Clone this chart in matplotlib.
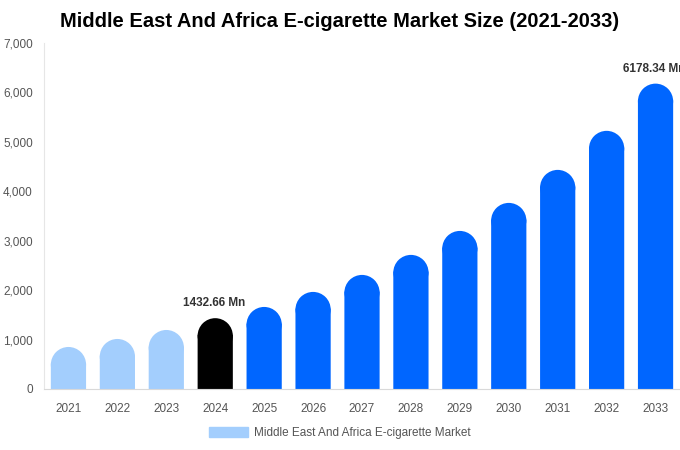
import matplotlib
matplotlib.use("Agg")
import matplotlib.pyplot as plt
from matplotlib.patches import Ellipse, Patch
from matplotlib.ticker import FuncFormatter

plt.rcParams['font.family'] = ['Liberation Sans', 'DejaVu Sans']

years = ['2021', '2022', '2023', '2024', '2025', '2026', '2027',
         '2028', '2029', '2030', '2031', '2032', '2033']
values = [850, 1012, 1194, 1432.66, 1660, 1964, 2308,
          2713, 3198, 3765, 4433, 5223, 6178.34]
colors = ['#a3cefd'] * 3 + ['#000000'] + ['#0066ff'] * 9
labeled = {3: '1432.66 Mn', 12: '6178.34 Mn'}

fig = plt.figure(figsize=(6.8, 4.5), dpi=100)
ax = fig.add_axes([0.0647, 0.1356, 0.9353, 0.7688])

bar_w = 0.72
ymax = 7000
# radius of the round top in data units (half the bar width in pixels)
px_per_x = ax.get_position().width * 680 / 13.0
px_per_y = ax.get_position().height * 450 / ymax
r_px = bar_w * px_per_x / 2
r_y = r_px / px_per_y
overlap = 1.0 / px_per_y  # one pixel, hides the seam

x = list(range(len(years)))
bars = ax.bar(x, [v - r_y + overlap for v in values], width=bar_w, color=colors,
              linewidth=0, zorder=2)
for b in bars:
    b.set_snap(False)
for i, v in enumerate(values):
    ax.add_patch(Ellipse((i, v - r_y), bar_w, 2 * r_y, color=colors[i],
                         zorder=3, linewidth=0))
    if i in labeled:
        ax.text(i - 0.03, v + 180, labeled[i], ha='center', va='bottom',
                fontsize=8.5, fontweight='bold', color='#333333', clip_on=False)

ax.set_xlim(-0.5, 12.5)
ax.set_ylim(0, ymax)
ax.set_xticks(x)
ax.set_xticklabels(years)
ax.set_yticks(range(0, 7001, 1000))
ax.yaxis.set_major_formatter(FuncFormatter(lambda v, p: f'{int(v):,}'))
ax.tick_params(axis='both', length=0, labelsize=8.5, labelcolor='#555555')
ax.tick_params(axis='x', pad=10)
ax.tick_params(axis='y', pad=8)
for s in ['top', 'right']:
    ax.spines[s].set_visible(False)
ax.spines['left'].set_color('#e6e6e6')
ax.spines['bottom'].set_color('#d9d9d9')

fig.text(0.5, 0.953, 'Middle East And Africa E-cigarette Market Size (2021-2033)',
         ha='center', va='center', fontsize=14.5, fontweight='bold')

fig.legend(handles=[Patch(color='#a3cefd', label='Middle East And Africa E-cigarette Market')],
           loc='center', bbox_to_anchor=(0.5, 0.038), frameon=False, fontsize=8.5,
           labelcolor='#555555', handlelength=3.3, handleheight=0.9,
           handletextpad=0.5)

fig.savefig('out.png', dpi=100)
